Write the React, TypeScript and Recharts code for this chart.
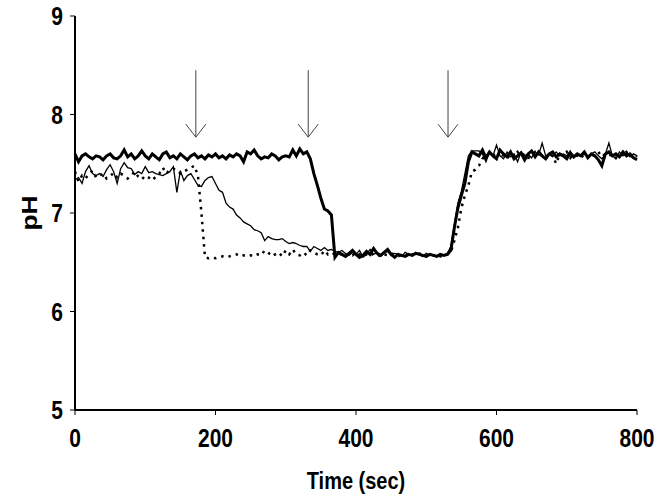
import React from "react";
import {
  LineChart,
  Line,
  XAxis,
  YAxis,
  ReferenceLine,
} from "recharts";

// sample times (sec)
const time = [
  0, 5, 10, 15, 20, 25, 30, 35, 40, 45, 50, 55, 60, 65, 70, 75, 80, 85, 90, 95,
  100, 105, 110, 115, 120, 125, 130, 135, 140, 145, 150, 155, 160, 165, 170, 175, 180, 185, 190, 195,
  200, 205, 210, 215, 220, 225, 230, 235, 240, 245, 250, 255, 260, 265, 270, 275, 280, 285, 290, 295,
  300, 305, 310, 315, 320, 325, 330, 335, 340, 345, 350, 355, 360, 365, 370, 375, 380, 385, 390, 395,
  400, 405, 410, 415, 420, 425, 430, 435, 440, 445, 450, 455, 460, 465, 470, 475, 480, 485, 490, 495,
  500, 505, 510, 515, 520, 525, 530, 535, 540, 545, 550, 555, 560, 565, 570, 575, 580, 585, 590, 595,
  600, 605, 610, 615, 620, 625, 630, 635, 640, 645, 650, 655, 660, 665, 670, 675, 680, 685, 690, 695,
  700, 705, 710, 715, 720, 725, 730, 735, 740, 745, 750, 755, 760, 765, 770, 775, 780, 785, 790, 795,
  800,
];

// thick solid trace
const phThick = [
  7.60, 7.52, 7.58, 7.60, 7.57, 7.55, 7.58, 7.57, 7.54, 7.58, 7.60, 7.56, 7.55, 7.58, 7.64, 7.57, 7.60, 7.55, 7.58, 7.63,
  7.58, 7.55, 7.60, 7.57, 7.54, 7.60, 7.62, 7.56, 7.58, 7.55, 7.60, 7.57, 7.54, 7.58, 7.60, 7.56, 7.58, 7.55, 7.59, 7.57,
  7.60, 7.56, 7.58, 7.55, 7.59, 7.57, 7.60, 7.58, 7.52, 7.62, 7.60, 7.64, 7.58, 7.55, 7.57, 7.56, 7.60, 7.58, 7.54, 7.57,
  7.58, 7.57, 7.64, 7.58, 7.65, 7.60, 7.62, 7.55, 7.40, 7.28, 7.15, 7.04, 7.02, 6.98, 6.55, 6.60, 6.58, 6.56, 6.59, 6.62,
  6.58, 6.55, 6.57, 6.61, 6.58, 6.64, 6.59, 6.57, 6.60, 6.63, 6.58, 6.55, 6.58, 6.57, 6.56, 6.58, 6.57, 6.59, 6.58, 6.57,
  6.56, 6.58, 6.57, 6.56, 6.58, 6.57, 6.58, 6.62, 6.85, 7.05, 7.18, 7.30, 7.52, 7.62, 7.60, 7.58, 7.64, 7.56, 7.62, 7.58,
  7.55, 7.64, 7.60, 7.57, 7.62, 7.55, 7.58, 7.61, 7.54, 7.60, 7.63, 7.57, 7.62, 7.58, 7.55, 7.60, 7.62, 7.57, 7.60, 7.58,
  7.55, 7.61, 7.57, 7.60, 7.58, 7.62, 7.56, 7.60, 7.58, 7.54, 7.48, 7.60, 7.62, 7.58, 7.60, 7.57, 7.62, 7.58, 7.60, 7.56,
  7.54,
];

// thin solid trace
const phThin = [
  7.34, 7.36, 7.30, 7.42, 7.48, 7.40, 7.38, 7.40, 7.37, 7.44, 7.49, 7.42, 7.30, 7.45, 7.51, 7.46, 7.45, 7.39, 7.42, 7.40,
  7.47, 7.41, 7.42, 7.40, 7.39, 7.38, 7.40, 7.42, 7.47, 7.21, 7.43, 7.33, 7.38, 7.40, 7.34, 7.28, 7.27, 7.33, 7.36, 7.37,
  7.30, 7.23, 7.21, 7.10, 7.06, 7.04, 6.98, 6.95, 6.91, 6.89, 6.87, 6.83, 6.82, 6.80, 6.72, 6.76, 6.74, 6.73, 6.73, 6.74,
  6.71, 6.69, 6.70, 6.69, 6.67, 6.66, 6.66, 6.61, 6.66, 6.64, 6.62, 6.65, 6.62, 6.63, 6.61, 6.60, 6.62, 6.59, 6.57, 6.60,
  6.58, 6.62, 6.55, 6.58, 6.63, 6.58, 6.60, 6.56, 6.59, 6.61, 6.57, 6.59, 6.58, 6.56, 6.60, 6.58, 6.57, 6.60, 6.58, 6.56,
  6.59, 6.57, 6.58, 6.56, 6.58, 6.57, 6.59, 6.66, 6.88, 7.10, 7.22, 7.40, 7.58, 7.63, 7.63, 7.63, 7.60, 7.52, 7.62, 7.58,
  7.69, 7.58, 7.55, 7.62, 7.57, 7.60, 7.52, 7.62, 7.58, 7.60, 7.56, 7.62, 7.59, 7.71, 7.58, 7.60, 7.57, 7.62, 7.58, 7.60,
  7.58, 7.63, 7.56, 7.60, 7.58, 7.60, 7.57, 7.60, 7.62, 7.58, 7.55, 7.60, 7.71, 7.58, 7.55, 7.62, 7.58, 7.61, 7.57, 7.60,
  7.58,
];

// dotted trace
const phDotted = [
  7.42, 7.32, 7.38, 7.35, 7.40, 7.43, 7.36, 7.38, 7.40, 7.35, 7.37, 7.41, 7.36, 7.40, 7.38, 7.35, 7.38, 7.42, 7.37, 7.34,
  7.38, 7.36, 7.33, 7.37, 7.40, 7.46, 7.40, 7.44, 7.45, 7.44, 7.40, 7.42, 7.44, 7.46, 7.48, 7.38, 7.00, 6.55, 6.54, 6.55,
  6.54, 6.55, 6.56, 6.55, 6.56, 6.57, 6.58, 6.56, 6.57, 6.56, 6.57, 6.56, 6.58, 6.57, 6.62, 6.60, 6.56, 6.58, 6.60, 6.56,
  6.62, 6.58, 6.63, 6.58, 6.57, 6.60, 6.57, 6.62, 6.60, 6.58, 6.57, 6.62, 6.58, 6.60, 6.58, 6.57, 6.59, 6.56, 6.58, 6.57,
  6.60, 6.58, 6.56, 6.58, 6.60, 6.57, 6.58, 6.56, 6.58, 6.57, 6.59, 6.58, 6.56, 6.58, 6.57, 6.56, 6.58, 6.57, 6.59, 6.57,
  6.56, 6.58, 6.57, 6.58, 6.56, 6.57, 6.58, 6.60, 6.72, 6.85, 7.05, 7.18, 7.28, 7.42, 7.44, 7.48, 7.55, 7.60, 7.58, 7.60,
  7.56, 7.62, 7.58, 7.55, 7.60, 7.57, 7.62, 7.58, 7.60, 7.56, 7.58, 7.62, 7.60, 7.58, 7.55, 7.60, 7.58, 7.50, 7.60, 7.58,
  7.62, 7.56, 7.60, 7.58, 7.60, 7.55, 7.58, 7.60, 7.58, 7.62, 7.57, 7.60, 7.58, 7.60, 7.56, 7.60, 7.58, 7.62, 7.57, 7.60,
  7.57,
];

const xTicks = [0, 200, 400, 600, 800];
const yTicks = [5, 6, 7, 8, 9];

// additions marked by arrows
const arrowTimes = [172, 332, 531];
const arrowTop = 8.45;
const arrowTip = 7.77;

const data = time.map((t, i) => ({
  t,
  thick: phThick[i],
  thin: phThin[i],
  dotted: phDotted[i],
}));

const FONT = "'Liberation Sans', Arial, Helvetica, sans-serif";
const STRETCH = 1.2;

const XTick = ({ x, y, payload }: any) => (
  <text
    x={0}
    y={0}
    transform={`translate(${x}, ${y + 30}) scale(1, ${STRETCH})`}
    textAnchor="middle"
    fontFamily={FONT}
    fontWeight="bold"
    fontSize={21}
    fill="#000"
  >
    {payload.value}
  </text>
);

const YTick = ({ x, y, payload }: any) => (
  <text
    x={0}
    y={0}
    transform={`translate(${x - 5}, ${y + 9}) scale(1, ${STRETCH})`}
    textAnchor="end"
    fontFamily={FONT}
    fontWeight="bold"
    fontSize={21}
    fill="#000"
  >
    {payload.value}
  </text>
);

const XLabel = ({ viewBox }: any) => (
  <text
    x={0}
    y={0}
    transform={`translate(${viewBox.x + viewBox.width / 2}, ${viewBox.y + 79}) scale(1, ${STRETCH})`}
    textAnchor="middle"
    fontFamily={FONT}
    fontWeight="bold"
    fontSize={20}
    fill="#000"
  >
    Time (sec)
  </text>
);

const YLabel = ({ viewBox }: any) => (
  <text
    x={0}
    y={0}
    transform={`translate(${viewBox.x + 37}, ${viewBox.y + viewBox.height / 2}) scale(1, ${STRETCH}) rotate(-90)`}
    textAnchor="middle"
    fontFamily={FONT}
    fontWeight="bold"
    fontSize={22}
    fill="#000"
  >
    pH
  </text>
);

const Arrow = ({ x1, y1, x2, y2 }: any) => (
  <g stroke="#444" strokeWidth={1} fill="none">
    <line x1={x1} y1={y1} x2={x2} y2={y2} />
    <polyline points={`${x2 - 10},${y2 - 13} ${x2},${y2} ${x2 + 10},${y2 - 13}`} />
  </g>
);

export default function App() {
  return (
    <div style={{ position: "absolute", left: 0, top: 0, background: "#fff" }}>
      <LineChart
        width={664}
        height={498}
        data={data}
        margin={{ top: 16, right: 27, left: 0, bottom: 0 }}
      >
        <XAxis
          dataKey="t"
          type="number"
          domain={[0, 800]}
          ticks={xTicks}
          height={88}
          axisLine={{ stroke: "#000", strokeWidth: 2 }}
          tickLine={{ stroke: "#000", strokeWidth: 1 }}
          tickSize={5}
          tick={<XTick />}
          label={<XLabel />}
        />
        <YAxis
          type="number"
          domain={[5, 9]}
          ticks={yTicks}
          width={75}
          axisLine={{ stroke: "#000", strokeWidth: 2 }}
          tickLine={{ stroke: "#000", strokeWidth: 1 }}
          tickSize={5}
          tick={<YTick />}
          label={<YLabel />}
        />
        {arrowTimes.map((a) => (
          <ReferenceLine
            key={a}
            segment={[
              { x: a, y: arrowTop },
              { x: a, y: arrowTip },
            ]}
            shape={<Arrow />}
          />
        ))}
        <Line
          dataKey="dotted"
          type="linear"
          stroke="#000"
          strokeWidth={2.5}
          strokeDasharray="2.5 5"
          dot={false}
          isAnimationActive={false}
        />
        <Line
          dataKey="thin"
          type="linear"
          stroke="#000"
          strokeWidth={1.3}
          dot={false}
          isAnimationActive={false}
        />
        <Line
          dataKey="thick"
          type="linear"
          stroke="#000"
          strokeWidth={3}
          dot={false}
          isAnimationActive={false}
        />
      </LineChart>
    </div>
  );
}
